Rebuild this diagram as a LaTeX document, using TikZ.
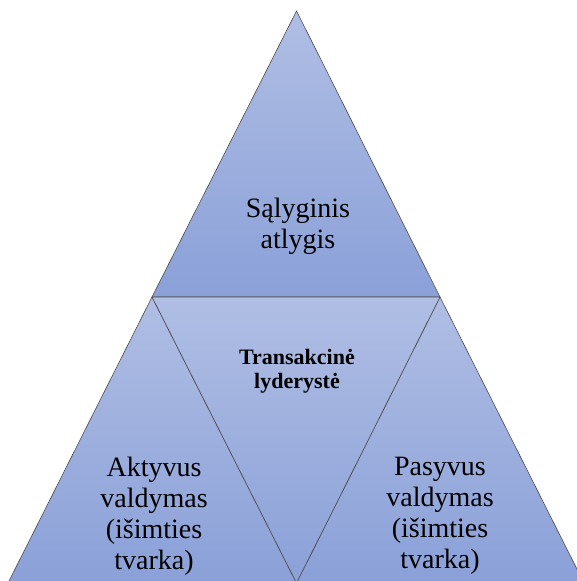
\documentclass[tikz,border=0pt]{standalone}
\usepackage{fontspec}
\setmainfont{Liberation Serif}
\usepackage{tikz}
\definecolor{triLight}{RGB}{176,190,228}
\definecolor{triDark}{RGB}{138,160,216}
\tikzset{tri/.style={draw=black!70, line width=0.6pt, line join=miter, top color=triLight, bottom color=triDark},
  lbl/.style={align=center, inner sep=0pt, font=\fontsize{28}{31}\selectfont},
  lblbold/.style={align=center, inner sep=0pt, font=\fontsize{22}{24}\selectfont\bfseries}}

\begin{document}
\begin{tikzpicture}[x=1pt,y=1pt]
\useasboundingbox (0,0) rectangle (577,581);
\clip (0,0) rectangle (577,581);
\coordinate (apex) at (296.5,570);
\coordinate (L) at (152,284);
\coordinate (R) at (440,284);
\coordinate (BL) at (8,-2);
\coordinate (BM) at (296.5,-2);
\coordinate (BR) at (584,-2);

\path[tri] (apex) -- (R) -- (L) -- cycle;
\path[tri] (L) -- (BM) -- (BL) -- cycle;
\path[tri] (R) -- (BR) -- (BM) -- cycle;
\path[tri] (L) -- (R) -- (BM) -- cycle;

\node[lbl] (salyg) at (298,354.5) {Sąlyginis\\atlygis};
\node[lblbold] (trans) at (297,210) {Transakcinė\\lyderystė};
\node[lbl] (aktyv) at (154,65) {Aktyvus\\valdymas\\(išimties\\tvarka)};
\node[lbl] (pasyv) at (440,65) {Pasyvus\\valdymas\\(išimties\\tvarka)};
\end{tikzpicture}
\end{document}
